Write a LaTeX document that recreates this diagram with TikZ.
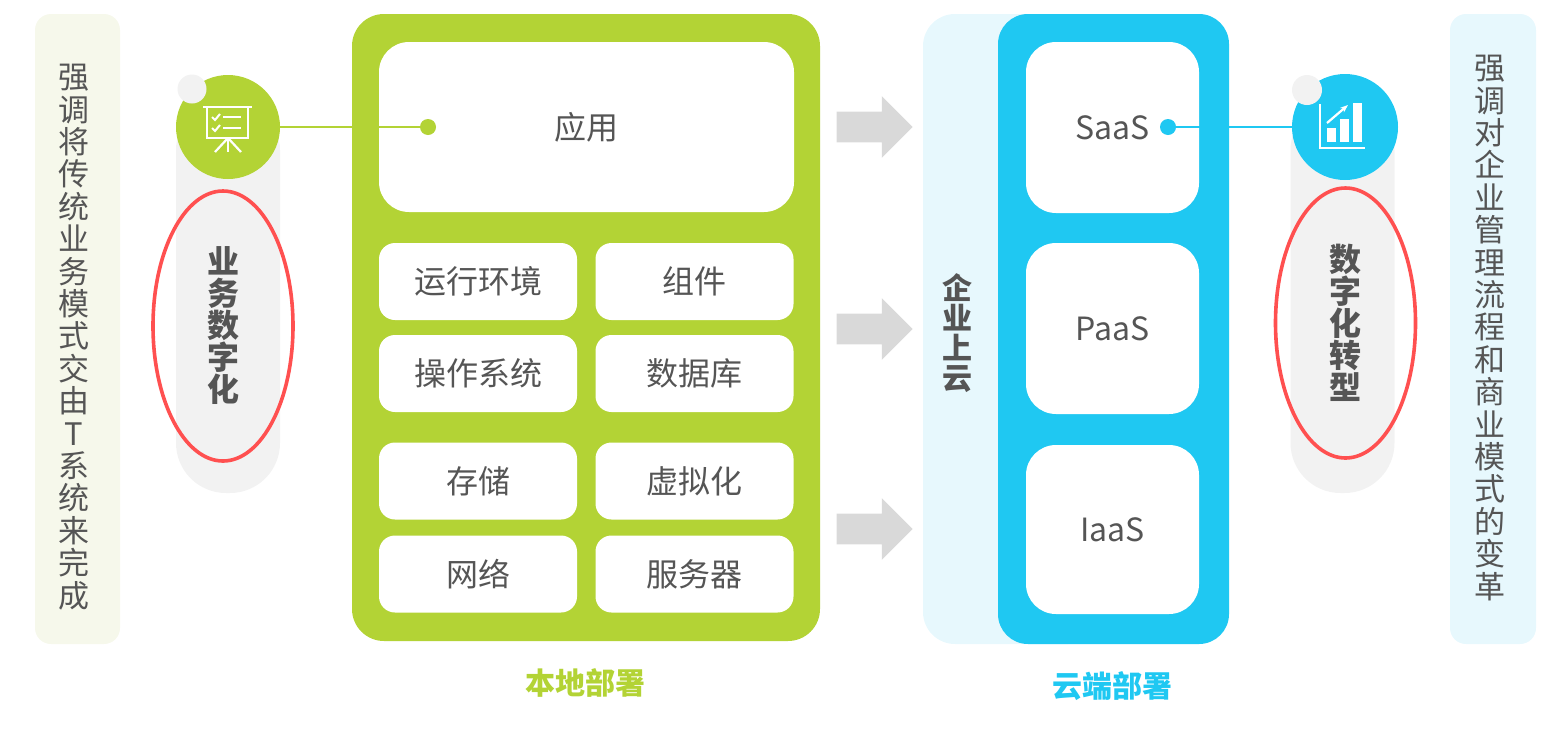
\documentclass[tikz,border=0pt]{standalone}
\usepackage{fontspec}
\setmainfont{Noto Sans CJK SC}
\usepackage{tikz}
\usetikzlibrary{shapes.arrows,shapes.geometric,arrows.meta}
\definecolor{localgreen}{HTML}{B3D335}
\definecolor{cloudblue}{HTML}{1FC8F2}
\definecolor{textgray}{HTML}{555555}
\definecolor{pillgray}{HTML}{F2F2F2}
\definecolor{arrowgray}{HTML}{D9D9D9}
\definecolor{ringred}{HTML}{FF5050}
\definecolor{leftbg}{HTML}{F6F8EB}
\definecolor{rightbg}{HTML}{E7F8FD}
\newcommand{\cellfont}{\fontsize{16pt}{18pt}\selectfont}
\newcommand{\vfont}{\fontsize{15.5pt}{16.2pt}\selectfont}
\newcommand{\boldvfont}{\bfseries\fontsize{16pt}{16pt}\selectfont}
\tikzset{
  panel/.style={rectangle, rounded corners=8pt, inner sep=0pt, minimum height=315pt},
  cell/.style={rectangle, fill=white, rounded corners=8pt, inner sep=0pt,
    minimum width=99pt, minimum height=38.5pt, text=textgray, font=\cellfont},
  bigcell/.style={rectangle, fill=white, rounded corners=15pt, inner sep=0pt,
    text=textgray, font=\cellfont},
  vtext/.style={align=center, inner sep=0pt, text=textgray, font=\vfont},
  pill/.style={rectangle, fill=pillgray, rounded corners=25pt, inner sep=0pt,
    minimum width=52pt, minimum height=196.5pt},
  ring/.style={ellipse, draw=ringred, line width=1.8pt, inner sep=0pt,
    minimum width=70pt, minimum height=135pt, text=textgray, align=center, font=\boldvfont},
  badge/.style={circle, inner sep=0pt, minimum size=52pt},
  knob/.style={circle, fill=pillgray, inner sep=0pt, minimum size=14.5pt},
  dot/.style={circle, inner sep=0pt, minimum size=8pt},
  push/.style={single arrow, fill=arrowgray, inner xsep=0pt, inner ysep=7.5pt,
    single arrow head extend=7.75pt, single arrow head indent=0pt, minimum height=38pt},
  caption/.style={font=\bfseries\fontsize{15pt}{16pt}\selectfont}
}
\begin{document}
\begin{tikzpicture}[x=0.5pt, y=-0.5pt]
\useasboundingbox (0,0) rectangle (1558,729);
% side notes
\node[panel, fill=leftbg, minimum width=42.5pt] (leftnote) at (77.5,329) {};
\node[vtext] (lefttext) at (74,337) {强\\调\\将\\传\\统\\业\\务\\模\\式\\交\\由\\T\\系\\统\\来\\完\\成};
\node[panel, fill=rightbg, minimum width=43pt] (rightnote) at (1493,329) {};
\node[vtext] (righttext) at (1490,328) {强\\调\\对\\企\\业\\管\\理\\流\\程\\和\\商\\业\\模\\式\\的\\变\\革};
% business badge
\node[pill] (leftpill) at (228,296.5) {};
\node[badge, fill=localgreen] (bizicon) at (228,127) {};
\node[knob] (bizknob) at (192,89) {};
\node[ring] (bizring) at (223,326) {业\\务\\数\\字\\化};
\draw[white, line width=1.3pt] (203,107) -- (252,107);
\draw[white, line width=1.1pt] (207,107) -- (207,138) -- (248,138) -- (248,107);
\draw[white, line width=1pt] (212,117) -- (215,120) -- (220,114);
\draw[white, line width=1pt] (223,117) -- (241,117);
\draw[white, line width=1pt] (212,128) -- (215,131) -- (220,125);
\draw[white, line width=1pt] (223,128) -- (241,128);
\draw[white, line width=1.1pt] (228,138) -- (215,152);
\draw[white, line width=1.1pt] (228,138) -- (228,152);
\draw[white, line width=1.1pt] (228,138) -- (241,152);
% local deployment
\node[rectangle, fill=localgreen, rounded corners=16pt, inner sep=0pt,
  minimum width=234pt, minimum height=313.5pt] (localbox) at (586,327.5) {};
\node[bigcell, minimum width=207.5pt, minimum height=85pt] (app) at (586.5,127) {应用};
\node[cell] (runtime) at (478,281.5) {运行环境};
\node[cell] (component) at (694.5,281.5) {组件};
\node[cell] (os) at (478,373.5) {操作系统};
\node[cell] (database) at (694.5,373.5) {数据库};
\node[cell] (storage) at (478,481) {存储};
\node[cell] (virtual) at (694.5,481) {虚拟化};
\node[cell] (network) at (478,574) {网络};
\node[cell] (server) at (694.5,574) {服务器};
\node[caption, text=localgreen] (localcap) at (585,683) {本地部署};
\node[dot, fill=localgreen] (appdot) at (428,127) {};
\draw[localgreen, line width=1pt] (bizicon) -- (appdot);
% arrows
\node[push] (push1) at (867,127) {};
\node[push] (push2) at (867,329) {};
\node[push] (push3) at (867,529) {};
% cloud deployment
\node[panel, fill=rightbg, rounded corners=16pt, minimum width=88.5pt] (cloudpanel) at (1011.5,329) {};
\node[vtext, font=\bfseries\fontsize{15pt}{15pt}\selectfont] (tocloud) at (957,333) {企\\业\\上\\云};
\node[rectangle, fill=cloudblue, rounded corners=15pt, inner sep=0pt,
  minimum width=115.5pt, minimum height=315pt] (cloudbox) at (1113.5,329) {};
\node[bigcell, minimum width=86.5pt, minimum height=85.5pt] (saas) at (1112.5,127.5) {SaaS};
\node[bigcell, minimum width=86.5pt, minimum height=85.5pt] (paas) at (1112.5,328.5) {PaaS};
\node[bigcell, minimum width=86.5pt, minimum height=84.5pt] (iaas) at (1112.5,529.5) {IaaS};
\node[caption, text=cloudblue] (cloudcap) at (1112,686) {云端部署};
% transform badge
\node[pill] (rightpill) at (1342.5,296.5) {};
\node[badge, fill=cloudblue, minimum size=53pt] (cloudicon) at (1345,127) {};
\node[knob, minimum size=15pt] (cloudknob) at (1307,90) {};
\node[ring] (cloudring) at (1345.5,323) {数\\字\\化\\转\\型};
\node[dot, fill=cloudblue] (saasdot) at (1168,127) {};
\draw[cloudblue, line width=1pt] (saasdot) -- (cloudicon);
\draw[white, line width=1.1pt] (1320,104) -- (1320,148) -- (1365,148);
\fill[white] (1327,128) rectangle (1336,142);
\fill[white] (1340,119) rectangle (1349,142);
\fill[white] (1353,103) rectangle (1362,142);
\draw[white, line width=1.1pt, -{Stealth[length=4pt]}] (1327,123) -- (1348,105);
\end{tikzpicture}
\end{document}
